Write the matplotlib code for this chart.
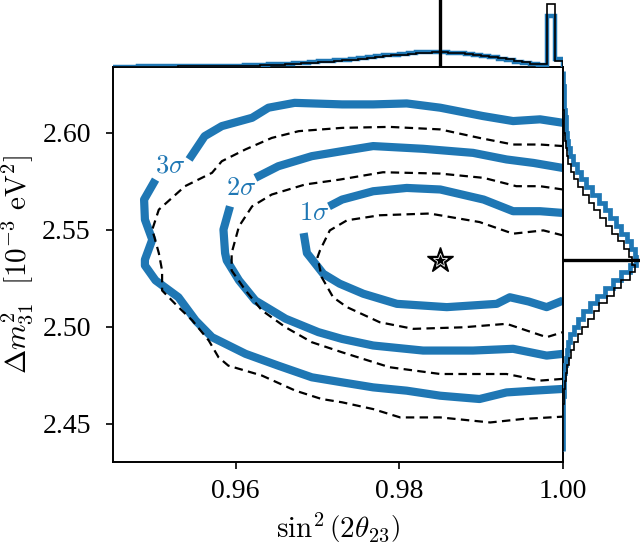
import numpy as np
import matplotlib
matplotlib.use("Agg")
import matplotlib.pyplot as plt

plt.rcParams['font.family'] = 'serif'
plt.rcParams['font.serif'] = ['Liberation Serif', 'DejaVu Serif']
plt.rcParams['mathtext.fontset'] = 'cm'
plt.rcParams['font.size'] = 20

BLUE = '#1f77b4'

# ---------------- contour data (sin^2(2theta23), dm31^2 [1e-3 eV^2]) ----------------
sig3_up_x = [1.0000, 0.9972, 0.9939, 0.9902, 0.9850, 0.9809, 0.9768, 0.9730, 0.9672, 0.9640, 0.9620, 0.9583, 0.9562, 0.9543]
sig3_up_y = [2.6052, 2.6070, 2.6061, 2.6087, 2.6130, 2.6152, 2.6147, 2.6147, 2.6155, 2.6130, 2.6078, 2.6035, 2.5983, 2.5863]
sig3_lo_x = [0.9502, 0.9488, 0.9489, 0.9498, 0.9489, 0.9489, 0.9502, 0.9530, 0.9551, 0.9571, 0.9612, 0.9652, 0.9693, 0.9730, 0.9768, 0.9809, 0.9850, 0.9898, 0.9931, 0.9964, 1.0000]
sig3_lo_y = [2.5759, 2.5656, 2.5553, 2.5449, 2.5346, 2.5316, 2.5239, 2.5152, 2.5032, 2.4946, 2.4860, 2.4799, 2.4739, 2.4713, 2.4687, 2.4670, 2.4644, 2.4627, 2.4661, 2.4670, 2.4679]

sig2_up_x = [1.0000, 0.9964, 0.9931, 0.9890, 0.9829, 0.9768, 0.9730, 0.9693, 0.9652, 0.9624]
sig2_up_y = [2.5819, 2.5845, 2.5863, 2.5897, 2.5918, 2.5932, 2.5906, 2.5880, 2.5828, 2.5768]
sig2_lo_x = [0.9593, 0.9585, 0.9587, 0.9589, 0.9604, 0.9624, 0.9661, 0.9701, 0.9730, 0.9768, 0.9829, 0.9890, 0.9939, 0.9980, 1.0000]
sig2_lo_y = [2.5621, 2.5501, 2.5380, 2.5342, 2.5239, 2.5135, 2.5041, 2.4972, 2.4937, 2.4903, 2.4877, 2.4877, 2.4886, 2.4851, 2.4860]

sig1_up_x = [1.0000, 0.9972, 0.9939, 0.9903, 0.9850, 0.9809, 0.9768, 0.9730, 0.9714]
sig1_up_y = [2.5587, 2.5596, 2.5596, 2.5656, 2.5708, 2.5716, 2.5699, 2.5656, 2.5621]
sig1_lo_x = [0.9683, 0.9687, 0.9691, 0.9707, 0.9727, 0.9756, 0.9797, 0.9858, 0.9919, 0.9935, 0.9958, 0.9980, 1.0000]
sig1_lo_y = [2.5483, 2.5380, 2.5359, 2.5273, 2.5222, 2.5170, 2.5118, 2.5101, 2.5118, 2.5152, 2.5130, 2.5101, 2.5135]

dash3_x = [1.0000, 0.9972, 0.9939, 0.9898, 0.9850, 0.9788, 0.9730, 0.9677, 0.9644, 0.9612, 0.9583, 0.9571, 0.9538, 0.9506, 0.9498, 0.9506, 0.9510, 0.9510, 0.9530, 0.9547, 0.9567, 0.9579, 0.9591, 0.9632, 0.9673, 0.9705, 0.9730, 0.9768, 0.9801, 0.9850, 0.9911, 0.9951, 1.0000]
dash3_y = [2.5932, 2.5940, 2.5940, 2.5974, 2.6018, 2.6031, 2.6026, 2.6009, 2.5974, 2.5915, 2.5854, 2.5794, 2.5725, 2.5604, 2.5501, 2.5380, 2.5290, 2.5187, 2.5101, 2.5032, 2.4929, 2.4842, 2.4799, 2.4748, 2.4670, 2.4627, 2.4610, 2.4575, 2.4532, 2.4532, 2.4506, 2.4524, 2.4536]

dash2_x = [1.0000, 0.9972, 0.9943, 0.9903, 0.9850, 0.9780, 0.9727, 0.9685, 0.9644, 0.9620, 0.9604, 0.9595, 0.9595, 0.9612, 0.9632, 0.9661, 0.9693, 0.9730, 0.9788, 0.9850, 0.9931, 0.9972, 1.0000]
dash2_y = [2.5708, 2.5725, 2.5725, 2.5768, 2.5790, 2.5797, 2.5759, 2.5734, 2.5682, 2.5621, 2.5518, 2.5380, 2.5290, 2.5187, 2.5084, 2.4997, 2.4920, 2.4868, 2.4791, 2.4756, 2.4756, 2.4722, 2.4731]

dash1_x = [1.0000, 0.9976, 0.9939, 0.9898, 0.9837, 0.9776, 0.9736, 0.9715, 0.9703, 0.9700, 0.9705, 0.9719, 0.9736, 0.9776, 0.9817, 0.9878, 0.9931, 0.9980, 1.0000]
dash1_y = [2.5471, 2.5497, 2.5480, 2.5540, 2.5584, 2.5575, 2.5549, 2.5497, 2.5394, 2.5359, 2.5256, 2.5152, 2.5101, 2.5023, 2.4989, 2.4997, 2.5015, 2.4946, 2.4972]

best_fit_x = 0.985
best_fit_y = 2.5345

contour_labels = [r'$3\sigma$', r'$2\sigma$', r'$1\sigma$']
label_x = [0.9520, 0.9606, 0.9696]
label_y = [2.5828, 2.5708, 2.5579]

# ---------------- marginal histograms ----------------
top_edge_start, top_bin_w, top_nbins = 0.945, 0.001, 55
top_blue = [0.5, 0.5, 0.5, 0.6, 0.6, 0.7, 0.7, 0.8, 0.8, 0.9, 0.9, 1.0, 1.0, 1.1, 1.2,
            1.3, 1.6, 1.9, 2.2, 2.6, 3.0, 3.4, 3.8, 4.3, 4.9, 5.6, 6.2, 6.8, 7.4, 8.2,
            9.0, 9.8, 10.6, 11.6, 12.4, 13.2, 14.0, 14.6, 15.0, 15.3, 15.0, 14.5, 13.8, 13.0, 12.0,
            11.0, 9.8, 8.4, 6.8, 5.2, 3.6, 2.6, 2.0, 51.0, 8.0]
top_black = [0.3, 0.3, 0.3, 0.4, 0.4, 0.5, 0.5, 0.5, 0.6, 0.6, 0.7, 0.7, 0.8, 0.8, 0.9,
             1.0, 1.2, 1.4, 1.7, 2.0, 2.4, 2.8, 3.2, 3.7, 4.2, 4.8, 5.4, 6.0, 6.7, 7.4,
             8.2, 9.0, 9.9, 10.8, 11.7, 12.5, 13.3, 14.0, 14.5, 14.8, 14.8, 14.5, 14.0, 13.3, 12.5,
             11.5, 10.4, 9.2, 7.8, 6.2, 4.6, 3.5, 2.8, 63.0, 6.0]

right_edge_start, right_bin_w, right_nbins = 2.436, 0.004, 49
right_blue = [0, 0.001, 0.001, 0.002, 0.003, 0.004, 0.005, 0.008, 0.01, 0.015,
              0.025, 0.035, 0.05, 0.07, 0.10, 0.15, 0.21, 0.28, 0.37, 0.47,
              0.58, 0.68, 0.80, 0.92, 1.00, 0.98, 0.93, 0.88, 0.80, 0.73,
              0.65, 0.57, 0.49, 0.40, 0.32, 0.25, 0.19, 0.14, 0.10, 0.075,
              0.055, 0.045, 0.035, 0.03, 0.02, 0.015, 0.01, 0.005, 0]
right_black = [0, 0, 0.001, 0.002, 0.004, 0.006, 0.01, 0.015, 0.025, 0.04,
               0.055, 0.08, 0.11, 0.15, 0.20, 0.26, 0.34, 0.42, 0.50, 0.60,
               0.70, 0.80, 0.92, 0.985, 0.95, 0.90, 0.84, 0.76, 0.67, 0.59,
               0.51, 0.43, 0.35, 0.28, 0.21, 0.15, 0.11, 0.075, 0.05, 0.035,
               0.028, 0.02, 0.015, 0.01, 0.006, 0.004, 0.002, 0, 0]

top_edges = top_edge_start + top_bin_w * np.arange(top_nbins + 1)
right_edges = right_edge_start + right_bin_w * np.arange(right_nbins + 1)

# ---------------- figure ----------------
W, H = 640, 548
fig = plt.figure(figsize=(W / 100, H / 100), dpi=100)
L, R, B, T = 113, 563, 462, 67
ax = fig.add_axes([L / W, (H - B) / H, (R - L) / W, (B - T) / H])
axt = fig.add_axes([L / W, (H - T) / H, (R - L) / W, T / H])
axr = fig.add_axes([R / W, (H - B) / H, (W - R) / W, (B - T) / H])

blue_kw = dict(color=BLUE, lw=5.9, solid_capstyle='butt', solid_joinstyle='round')
dash_kw = dict(color='k', lw=1.6, ls=(0, (3.8, 2.4)), dash_joinstyle='round')

for xs, ys in [(sig3_up_x, sig3_up_y), (sig3_lo_x, sig3_lo_y),
               (sig2_up_x, sig2_up_y), (sig2_lo_x, sig2_lo_y),
               (sig1_up_x, sig1_up_y), (sig1_lo_x, sig1_lo_y)]:
    ax.plot(xs, ys, **blue_kw)
for xs, ys in [(dash3_x, dash3_y), (dash2_x, dash2_y), (dash1_x, dash1_y)]:
    ax.plot(xs, ys, **dash_kw)

for lab, lx, ly in zip(contour_labels, label_x, label_y):
    ax.text(lx, ly, lab, color=BLUE, fontsize=19, ha='center', va='center')

ax.plot(best_fit_x, best_fit_y, marker='*', ms=19, mfc='k', mec='k', zorder=5)
ax.plot(best_fit_x, best_fit_y, marker='*', ms=10, mfc='k', mec='w', mew=0.6, zorder=6)

ax.set_xlim(0.945, 1.0)
ax.set_ylim(2.4302, 2.634)
ax.set_xticks([0.96, 0.98, 1.00])
ax.set_yticks([2.45, 2.50, 2.55, 2.60])
ax.xaxis.set_major_formatter(matplotlib.ticker.FormatStrFormatter('%.2f'))
ax.yaxis.set_major_formatter(matplotlib.ticker.FormatStrFormatter('%.2f'))
ax.tick_params(direction='out', length=5, width=1.2, labelsize=20)
ax.tick_params(axis='y', pad=11)
ax.tick_params(axis='x', pad=7)
for s in ax.spines.values():
    s.set_linewidth(1.4)
ax.set_xlabel(r'$\sin^2\left(2\theta_{23}\right)$', fontsize=21, labelpad=5)
ax.set_ylabel(r'$\Delta m^2_{31}\ \ [10^{-3}\ \mathrm{eV}^2]$', fontsize=21)
ax.yaxis.label.set_verticalalignment('center')
ax.yaxis.set_label_coords(-0.213, 0.5)

# top marginal
axt.stairs(top_blue, top_edges, color=BLUE, lw=3.2, baseline=0)
axt.stairs(top_black, top_edges, color='k', lw=1.2, baseline=0)
axt.axvline(best_fit_x, color='k', lw=2.4)
axt.set_xlim(0.945, 1.0)
axt.set_ylim(0, 67)
axt.axis('off')

# right marginal
axr.stairs(right_blue, right_edges, color=BLUE, lw=3.4, baseline=0, orientation='horizontal')
axr.stairs(right_black, right_edges, color='k', lw=1.2, baseline=0, orientation='horizontal')
axr.axhline(best_fit_y, color='k', lw=2.4)
axr.set_ylim(2.4302, 2.634)
axr.set_xlim(0, 1.055)
axr.axis('off')

fig.savefig('out.png', dpi=100)
